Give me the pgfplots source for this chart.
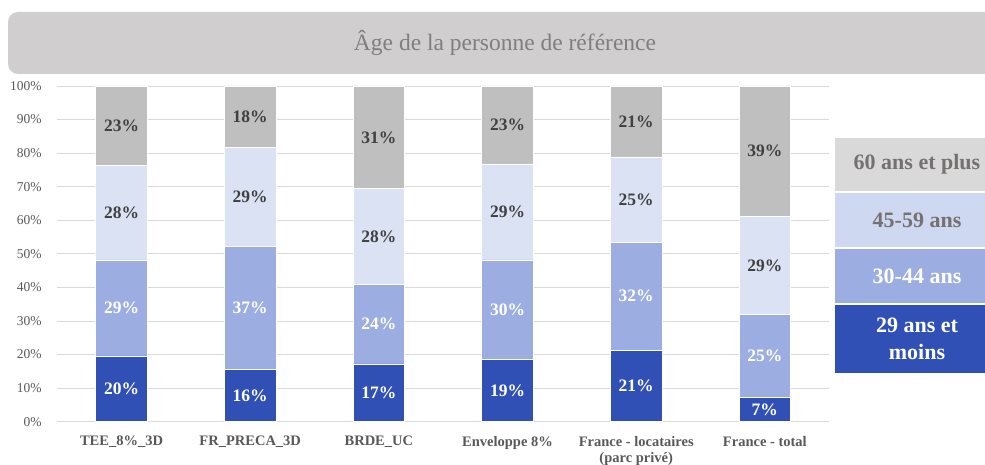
\documentclass[border=0pt]{standalone}
\usepackage{pgfplots}
\pgfplotsset{compat=1.18}
\usepackage{fontspec}
\setmainfont{Liberation Serif}
\definecolor{cdark}{HTML}{3050B6}
\definecolor{cmid}{HTML}{9CAEE1}
\definecolor{clight}{HTML}{DAE2F4}
\definecolor{cgray}{HTML}{BFBFBF}
\definecolor{lgray}{HTML}{D9D9D9}
\definecolor{llight}{HTML}{CFD8F1}
\definecolor{lmid}{HTML}{9BADE1}
\definecolor{titlebg}{HTML}{D0CECE}
\definecolor{titletx}{HTML}{7F7F7F}
\definecolor{legtx}{HTML}{767171}
\definecolor{ticktx}{HTML}{595959}
\definecolor{labdark}{HTML}{404040}
\definecolor{gridc}{HTML}{D9D9D9}
\begin{document}
\begin{tikzpicture}[x=1pt,y=1pt]
\clip (0,0) rectangle (985,465);
\fill[titlebg, rounded corners=10pt] (8,391) rectangle (1002,453);
\node[text=titletx, font=\fontsize{23.5}{27}\selectfont] at (505,422) {Âge de la personne de référence};
\begin{axis}[
  at={(57.2pt,43.3pt)}, anchor=south west,
  scale only axis, width=772pt, height=335.7pt,
  ybar stacked, bar width=51.5pt,
  xmin=-0.5, xmax=5.5, ymin=0, ymax=100,
  xtick={0,1,2,3,4,5},
  xticklabels={TEE\_8\%\_3D, FR\_PRECA\_3D, BRDE\_UC, Enveloppe 8\%, {France - locataires\\(parc privé)}, France - total},
  ytick={0,10,...,100},
  yticklabel={\pgfmathprintnumber{\tick}\%},
  /pgf/number format/assume math mode=true,
  ymajorgrids, grid style={gridc, line width=0.8pt},
  axis line style={draw=none},
  major tick length=0pt,
  yticklabel style={font=\fontsize{13.5}{15}\selectfont, text=ticktx, xshift=-12pt},
  xticklabel style={font=\bfseries\fontsize{14.5}{16.5}\selectfont, text=ticktx, align=center, yshift=-11pt},
  point meta=explicit symbolic,
  nodes near coords={\pgfplotspointmeta\%},
  every node near coord/.append style={anchor=center, font=\bfseries\fontsize{17.5}{20}\selectfont},
]
\addplot[fill=cdark, draw=white, line width=0.6pt, nodes near coords style={text=white}] coordinates {
  (0,19.6) [20] (1,15.6) [16] (2,17.2) [17] (3,18.6) [19] (4,21.3) [21] (5,7.2) [7]};
\addplot[fill=cmid, draw=white, line width=0.6pt, nodes near coords style={text=white}] coordinates {
  (0,28.6) [29] (1,36.7) [37] (2,23.7) [24] (3,29.6) [30] (4,32.2) [32] (5,24.7) [25]};
\addplot[fill=clight, draw=white, line width=0.6pt, nodes near coords style={text=labdark}] coordinates {
  (0,28.1) [28] (1,29.3) [29] (2,28.5) [28] (3,28.6) [29] (4,25.4) [25] (5,29.2) [29]};
\addplot[fill=cgray, draw=white, line width=0.6pt, nodes near coords style={text=labdark}] coordinates {
  (0,23.7) [23] (1,18.4) [18] (2,30.6) [31] (3,23.2) [23] (4,21.1) [21] (5,38.9) [39]};
\end{axis}
\fill[lgray] (835,274) rectangle (1000,327);
\node[text=legtx, font=\bfseries\fontsize{22}{26}\selectfont] at (917,300.5) {60 ans et plus};
\fill[llight] (835,218) rectangle (1000,272);
\node[text=legtx, font=\bfseries\fontsize{22}{26}\selectfont] at (917,245) {45-59 ans};
\fill[lmid] (835,162) rectangle (1000,216);
\node[text=white, font=\bfseries\fontsize{22}{26}\selectfont] at (917,189) {30-44 ans};
\fill[cdark] (835,92) rectangle (1000,160);
\node[text=white, align=center, font=\bfseries\fontsize{22}{27}\selectfont] at (917,126) {29 ans et\\moins};
\end{tikzpicture}
\end{document}
